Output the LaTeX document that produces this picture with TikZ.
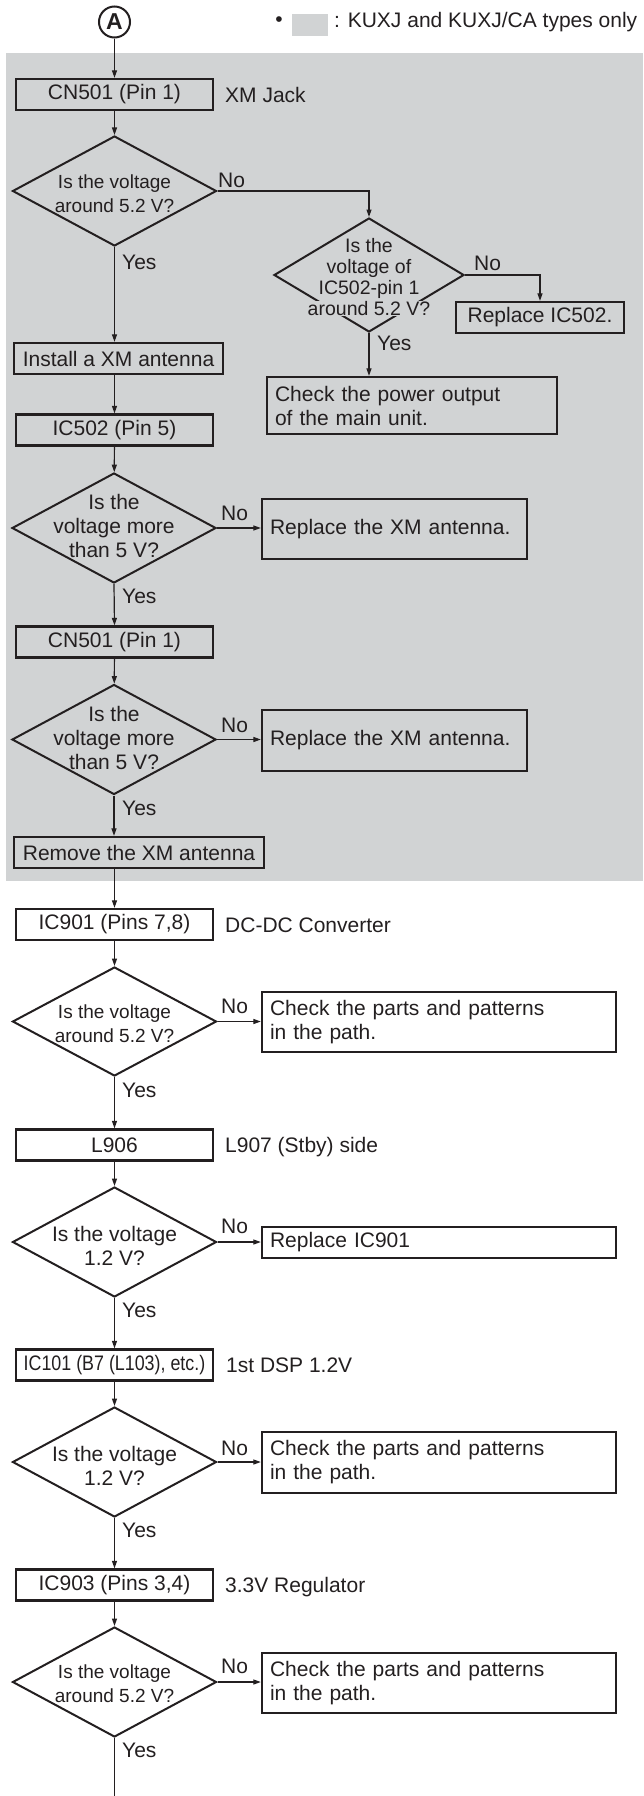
\documentclass[tikz,border=0pt]{standalone}
\usepackage{fontspec}
\usepackage{graphicx}
\setmainfont{Liberation Sans}
\usetikzlibrary{shapes.geometric,arrows.meta,calc}
\definecolor{bggray}{RGB}{209,211,212}
\definecolor{ink}{RGB}{35,31,32}
\setlength{\fboxsep}{0pt}
\newcommand\myfs{\fontsize{21}{24}\selectfont}
\newcommand\myfss{\fontsize{19}{24}\selectfont}
\newcommand\myfsd{\fontsize{19.5}{21}\selectfont}
\newcommand\ko[1]{\colorbox{bggray}{#1}}
\begin{document}
\begin{tikzpicture}[x=1pt,y=-1pt,
  every node/.style={text=ink},
  box/.style={draw=ink, line width=2.3pt, rectangle, inner sep=0pt, font=\myfs},
  lbox/.style={draw=ink, line width=2.3pt, rectangle, inner ysep=0pt, inner xsep=8pt, align=left, font=\myfs},
  dia/.style={draw=ink, line width=2pt, diamond, inner sep=0pt, minimum width=204pt, minimum height=110pt},
  dtext/.style={align=center, inner sep=0pt, font=\myfs},
  lab/.style={anchor=base west, inner sep=0pt, font=\myfs},
  arr/.style={draw=ink, line width=1.2pt, -{Triangle[length=7.5pt,width=5pt]}},
  conn/.style={draw=ink, line width=1.2pt}]
\useasboundingbox (0,0) rectangle (643,1796);
\fill[bggray] (6,53) rectangle (643,881);

% legend
\node[inner sep=0pt, font=\myfs] (bul) at (279,22) {•};
\node[fill=bggray, minimum width=36pt, minimum height=22pt, inner sep=0pt] (sw) at (310,25) {};
\node[lab] (leg) at (334,27.5) {: KUXJ and KUXJ/CA types only};

% start connector
\node[draw=ink, circle, line width=2pt, minimum size=31pt, inner sep=0pt, font=\bfseries\fontsize{23}{23}\selectfont] (A) at (114.5,22) {A};

\node[box, minimum width=197pt, minimum height=31pt] (b1) at (114.5,94.5) {CN501 (Pin 1)};
\node[lab] (l1) at (225,102) {XM Jack};

\node[dia] (d1) at (114.5,191) {};
\node[dtext, font=\myfss] (d1t) at (114.5,194) {Is the voltage\\around 5.2 V?};
\node[lab] (n1) at (218,187.5) {No};
\node[lab] (y1) at (122,269.5) {Yes};

\node[dia, minimum width=190pt, minimum height=114pt] (d2) at (369,275) {};
\node[dtext, font=\myfsd] (d2t) at (369,277) {Is the\\voltage of\\\ko{IC502-pin 1}\\\ko{around 5.2 V?}};
\node[lab] (n2) at (474,270) {No};
\node[lab] (y2) at (377,350.5) {Yes};
\node[box, minimum width=168pt, minimum height=31pt] (r1) at (540,317.5) {Replace IC502.};
\node[lbox, text width=274pt, minimum height=57pt] (c1) at (412,405.5) {Check the power output\\of the main unit.};

\node[box, minimum width=209pt, minimum height=31pt] (b2) at (118.5,358.5) {Install a XM antenna};
\node[box, minimum width=197pt, minimum height=31pt] (b3) at (114.5,430) {IC502 (Pin 5)};

\node[dia] (d3) at (114,528) {};
\node[dtext] (d3t) at (114,526) {Is the\\voltage more\\than 5 V?};
\node[lab] (n3) at (221,520) {No};
\node[lab] (y3) at (122,603.5) {Yes};
\node[lbox, text width=249pt, minimum height=60pt] (r2) at (394.5,529) {Replace the XM antenna.};

\node[box, minimum width=197pt, minimum height=31pt] (b4) at (114.5,642) {CN501 (Pin 1)};

\node[dia] (d4) at (114,739.5) {};
\node[dtext] (d4t) at (114,737.5) {Is the\\voltage more\\than 5 V?};
\node[lab] (n4) at (221,732) {No};
\node[lab] (y4) at (122,815.5) {Yes};
\node[lbox, text width=249pt, minimum height=61pt] (r3) at (394.5,740.5) {Replace the XM antenna.};

\node[box, minimum width=250pt, minimum height=31pt] (b5) at (139,852.5) {Remove the XM antenna};

\node[box, minimum width=197pt, minimum height=31pt] (b6) at (114.5,924.5) {IC901 (Pins 7,8)};
\node[lab] (l6) at (225,932) {DC-DC Converter};

\node[dia, minimum height=109pt] (d5) at (114.5,1021.5) {};
\node[dtext, font=\myfss] (d5t) at (114.5,1024) {Is the voltage\\around 5.2 V?};
\node[lab] (n5) at (221,1013) {No};
\node[lab] (y5) at (122,1097.5) {Yes};
\node[lbox, text width=338pt, minimum height=60pt] (c2) at (439,1022) {Check the parts and patterns\\in the path.};

\node[box, minimum width=197pt, minimum height=31pt] (b7) at (114.5,1145) {L906};
\node[lab] (l7) at (225,1152.5) {L907 (Stby) side};

\node[dia] (d6) at (114.5,1242) {};
\node[dtext] (d6t) at (114.5,1246) {Is the voltage\\1.2 V?};
\node[lab] (n6) at (221,1233) {No};
\node[lab] (y6) at (122,1317.5) {Yes};
\node[lbox, text width=338pt, minimum height=31pt] (r4) at (439,1242.5) {Replace IC901};

\node[box, minimum width=197pt, minimum height=31pt] (b8) at (114.5,1365) {\scalebox{0.85}[1]{IC101 (B7 (L103), etc.)}};
\node[lab] (l8) at (226,1372.5) {1st DSP 1.2V};

\node[dia] (d7) at (114.5,1462) {};
\node[dtext] (d7t) at (114.5,1466) {Is the voltage\\1.2 V?};
\node[lab] (n7) at (221,1455) {No};
\node[lab] (y7) at (122,1537.5) {Yes};
\node[lbox, text width=338pt, minimum height=61pt] (c3) at (439,1462.5) {Check the parts and patterns\\in the path.};

\node[box, minimum width=197pt, minimum height=31pt] (b9) at (114.5,1585) {IC903 (Pins 3,4)};
\node[lab] (l9) at (225,1592.5) {3.3V Regulator};

\node[dia] (d8) at (114.5,1682) {};
\node[dtext, font=\myfss] (d8t) at (114.5,1684) {Is the voltage\\around 5.2 V?};
\node[lab] (n8) at (221,1673) {No};
\node[lab] (y8) at (122,1757.5) {Yes};
\node[lbox, text width=338pt, minimum height=60pt] (c4) at (439,1683) {Check the parts and patterns\\in the path.};

\coordinate (end) at (114.5,1796);

% connectors
\draw[arr] (A) -- (b1);
\draw[arr] (b1) -- (d1);
\draw[arr] (d1.east) -| (d2.north);
\draw[arr] (d2.east) -| (r1.north);
\draw[arr] (d2.south) -- (d2.south |- c1.north);
\draw[arr] (d1.south) -- (d1.south |- b2.north);
\draw[arr] (b3.north |- b2.south) -- (b3.north);
\draw[arr] (b3) -- (d3);
\draw[arr] (d3.east) -- (d3.east -| r2.west);
\draw[arr] (d3.south) -- (b4.north);
\draw[arr] (b4) -- (d4);
\draw[arr] (d4.east) -- (d4.east -| r3.west);
\draw[arr] (d4.south) -- (d4.south |- b5.north);
\draw[arr] (b6.north |- b5.south) -- (b6.north);
\draw[arr] (b6) -- (d5);
\draw[arr] (d5.east) -- (d5.east -| c2.west);
\draw[arr] (d5.south) -- (b7.north);
\draw[arr] (b7) -- (d6);
\draw[arr] (d6.east) -- (d6.east -| r4.west);
\draw[arr] (d6.south) -- (b8.north);
\draw[arr] (b8) -- (d7);
\draw[arr] (d7.east) -- (d7.east -| c3.west);
\draw[arr] (d7.south) -- (b9.north);
\draw[arr] (b9) -- (d8);
\draw[arr] (d8.east) -- (d8.east -| c4.west);
\draw[conn] (d8.south) -- (end);
\end{tikzpicture}
\end{document}
